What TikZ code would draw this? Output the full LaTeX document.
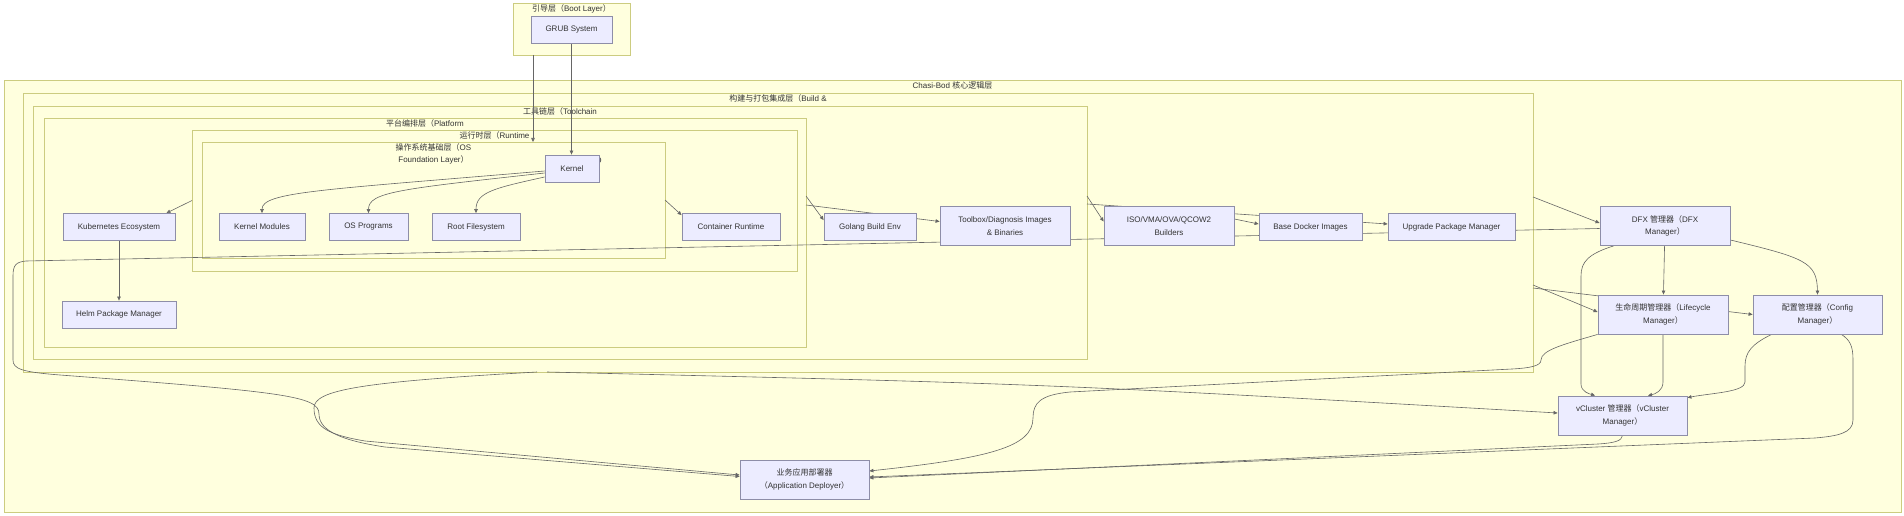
\documentclass[tikz,border=0pt]{standalone}
\usepackage{fontspec}
\setmainfont{Liberation Sans}
\newfontfamily\zhfont{Noto Sans CJK SC}
\newcommand\zh[1]{{\zhfont #1}}
\usetikzlibrary{positioning,arrows.meta}
\definecolor{layerfill}{HTML}{FFFFDE}
\definecolor{layerline}{HTML}{CCCC80}
\definecolor{compfill}{HTML}{ECECFF}
\definecolor{compline}{HTML}{8E8EA8}
\definecolor{ink}{HTML}{333333}
\definecolor{wire}{HTML}{666666}
\tikzstyle{layer} = [draw=layerline, fill=layerfill, line width=0.7pt, inner sep=0pt, outer sep=0pt]
\tikzstyle{layertitle} = [text=ink, font=\fontsize{8}{12}\selectfont, inner sep=0pt, text height=6pt, text depth=2pt, align=center]
\tikzstyle{comp} = [draw=compline, fill=compfill, line width=0.8pt, text=ink, font=\fontsize{8}{12.5}\selectfont, align=center, minimum height=27pt, inner sep=0pt]
\tikzstyle{tall} = [minimum height=39pt]
\tikzstyle{link} = [draw=wire, line width=0.6pt, ->]
\pgfdeclarelayer{back}
\pgfdeclarelayer{mid}
\pgfsetlayers{back,mid,main}
\begin{document}
\begin{tikzpicture}[x=1pt, y=-1pt, >={Triangle[length=4pt,width=3.5pt]}]
    \useasboundingbox (0,0) rectangle (1904,516);
    \begin{pgfonlayer}{back}
    \node[layer, minimum width=117, minimum height=52](boot) at (571.5,29){};
    \node[layertitle, below=2pt of boot.north](boottitle){\zh{引导层（}Boot Layer\zh{）}};
    \node[layer, minimum width=1897, minimum height=432](core) at (952.5,296){};
    \node[layertitle, below=2pt of core.north](coretitle){Chasi-Bod \zh{核心逻辑层}};
    \node[layer, minimum width=1510, minimum height=279](build) at (778,232.5){};
    \node[layertitle, below=2pt of build.north](buildtitle){\zh{构建与打包集成层（}Build \&};
    \node[layer, minimum width=1054, minimum height=253](toolchain) at (560,232.5){};
    \node[layertitle, below=2pt of toolchain.north](toolchaintitle){\zh{工具链层（}Toolchain};
    \node[layer, minimum width=762, minimum height=229](platform) at (425,232.5){};
    \node[layertitle, below=2pt of platform.north](platformtitle){\zh{平台编排层（}Platform};
    \node[layer, minimum width=605, minimum height=141](runtime) at (494.5,200.5){};
    \node[layertitle, below=2pt of runtime.north](runtimetitle){\zh{运行时层（}Runtime};
    \node[layer, minimum width=463, minimum height=116](osf) at (433.5,200){};
    \node[layertitle, text height=18pt, below=2pt of osf.north](osftitle){\zh{操作系统基础层（}OS\\Foundation Layer\zh{）}};
    \end{pgfonlayer}
    \node[comp, minimum width=81](grub) at (571.5,29.5){GRUB System};
    \node[comp, minimum width=54](kernel) at (572,168.5){Kernel};
    \node[comp, minimum width=112](k8s) at (119,227){Kubernetes Ecosystem};
    \node[comp, minimum width=86](kmod) at (262,227){Kernel Modules};
    \node[comp, minimum width=79](osprog) at (368.5,227){OS Programs};
    \node[comp, minimum width=88](rootfs) at (476,227){Root Filesystem};
    \node[comp, minimum width=98](ctr) at (731,227){Container Runtime};
    \node[comp, minimum width=92](golang) at (870,227){Golang Build Env};
    \node[comp, tall, minimum width=130](toolbox) at (1005,226){Toolbox/Diagnosis Images\\\& Binaries};
    \node[comp, tall, minimum width=130](iso) at (1169,226){ISO/VMA/OVA/QCOW2\\Builders};
    \node[comp, minimum width=103](docker) at (1310.5,227){Base Docker Images};
    \node[comp, minimum width=127](upgrade) at (1451.5,227){Upgrade Package Manager};
    \node[comp, tall, minimum width=130](dfx) at (1665,226){DFX \zh{管理器（}DFX\\Manager\zh{）}};
    \node[comp, minimum width=114](helm) at (119,314.5){Helm Package Manager};
    \node[comp, tall, minimum width=130](life) at (1663,314.5){\zh{生命周期管理器（}Lifecycle\\Manager\zh{）}};
    \node[comp, tall, minimum width=129](config) at (1817.5,314.5){\zh{配置管理器（}Config\\Manager\zh{）}};
    \node[comp, tall, minimum width=129](vcluster) at (1622.5,415.5){vCluster \zh{管理器（}vCluster\\Manager\zh{）}};
    \node[comp, tall, minimum width=129](deployer) at (804.5,479.5){\zh{业务应用部署器}\\\zh{（}Application Deployer\zh{）}};
    \coordinate(bootport) at ([xshift=20pt]boot.south west);
    \begin{pgfonlayer}{mid}
    \draw[link](grub.south)--(grub.south |- kernel.north);
    \draw[link](bootport)--(bootport |- osf.north);
    \fill[wire]([yshift=-2pt]kernel.north east) .. controls +(3pt,0) and +(3pt,0) .. ([yshift=-8pt]kernel.north east) -- cycle;
    \draw[link]([yshift=-2.5pt]kernel.west) .. controls (320,190) and (262,192) .. (kmod.north);
    \draw[link]([yshift=-4.5pt]kernel.west) .. controls (400,189) and (368.5,192) .. (osprog.north);
    \draw[link]([yshift=-8.5pt]kernel.west) .. controls (495,188) and (476,192) .. (rootfs.north);
    \draw[link](runtime.west)--([xshift=-9pt]k8s.north east);
    \draw[link](osf.east)--([yshift=-2pt]ctr.north west);
    \draw[link](k8s)--(helm);
    \draw[link]([yshift=36.5pt]platform.east)--([yshift=-7pt]golang.north west);
    \draw[link]([yshift=27.5pt]platform.east)--([yshift=4.5pt]toolbox.west);
    \draw[link]([yshift=36.5pt]toolchain.east)--([yshift=4.5pt]iso.west);
    \draw[link]([yshift=28.5pt]toolchain.east)--([yshift=3pt]upgrade.west);
    \draw[link]([yshift=7pt]iso.east)--([yshift=3pt]docker.west);
    \draw[link]([yshift=35.5pt]build.east)--([yshift=3pt]dfx.west);
    \draw[link]([yshift=-52.5pt]build.east)--([yshift=2.5pt]life.west);
    \draw[link]([yshift=-55.5pt]build.east)--(config.west);
    \draw[link](dfx)--(life);
    \draw[link]([yshift=-14pt]dfx.east) .. controls (1805,258) and (1817,262) .. (config.north);
    \draw[link]([xshift=14pt]dfx.south west) .. controls (1588,254) and (1581,262) .. (1581,276) -- (1581,384) .. controls (1581,392) and (1590,394) .. ([xshift=-27.5pt]vcluster.north);
    \draw[link](life.south) -- (1663,382) .. controls (1663,391) and (1655,394) .. ([xshift=25.5pt]vcluster.north);
    \draw[link]([xshift=19pt]config.south west) .. controls (1752,344) and (1745,352) .. (1745,366) -- (1745,382) .. controls (1745,392) and (1712,393) .. ([yshift=-2pt]vcluster.north east);
    \draw[link]([xshift=-41pt]config.south east) .. controls (1850,340) and (1853,346) .. (1853,360) -- (1853,420) .. controls (1853,433) and (1838,436) .. (1815,438) -- ([yshift=2.5pt]deployer.east);
    \draw[link](vcluster.south) .. controls (1622,441) and (1614,443) .. (1598,444) -- ([yshift=1.5pt]deployer.east);
    \draw[link](life.south west) .. controls (1565,344) and (1541,350) .. (1541,360) .. controls (1541,366) and (1530,368) .. (1512,369) -- (1070,392) .. controls (1040,395) and (1033,403) .. (1033,418) .. controls (1033,447) and (990,458) .. ([yshift=8.5pt]deployer.east);
    \draw[link]([xshift=-231pt]build.south) .. controls (1052,384) .. ([yshift=2.5pt]vcluster.west);
    \draw[link]([xshift=-241pt]build.south) .. controls (360,382) and (314,390) .. (314,408) .. controls (314,428) and (330,435) .. (365,441) -- ([yshift=4.5pt]deployer.west);
    \draw[link]([yshift=-2.5pt]dfx.west) -- (26,261) .. controls (16,262) and (13,265) .. (13,276) -- (13,360) .. controls (13,369) and (22,372) .. (60,375) .. controls (285,392) and (319,396) .. (319,414) .. controls (319,432) and (345,441) .. (385,447) -- ([yshift=3pt]deployer.west);
    \end{pgfonlayer}
\end{tikzpicture}
\end{document}
